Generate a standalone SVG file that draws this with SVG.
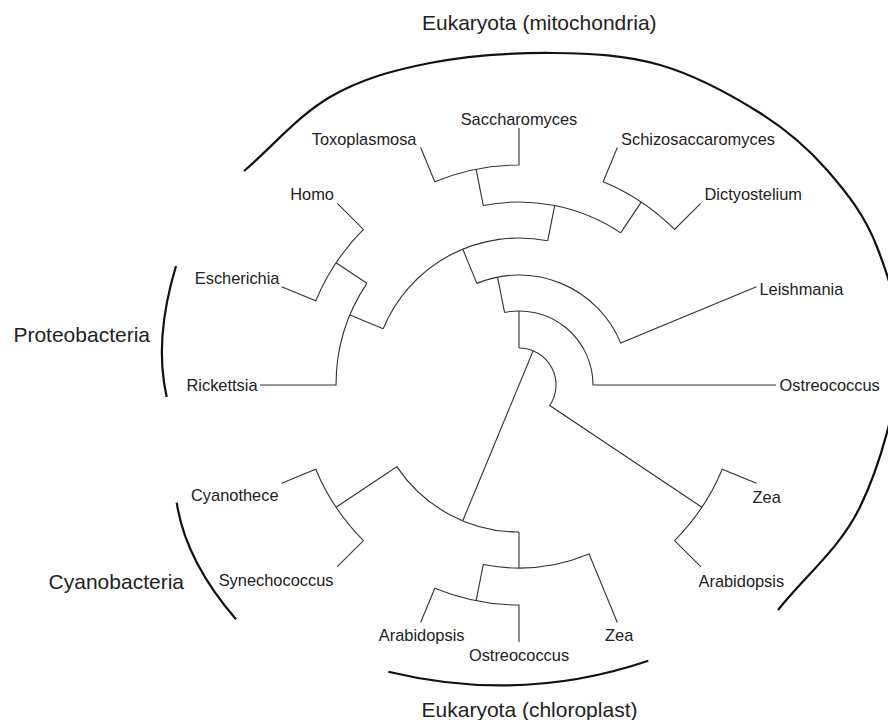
<svg xmlns="http://www.w3.org/2000/svg" width="888" height="720" viewBox="0 0 888 720">
<style>
  .t { font-family: "Liberation Sans", Arial, sans-serif; font-size: 16.4px; fill: #222; }
  .big { font-family: "Liberation Sans", Arial, sans-serif; font-size: 21px; fill: #222; }
  .br { fill: none; stroke: #111; stroke-width: 2.2; stroke-linecap: butt; }
  .e { fill: none; stroke: #333; stroke-width: 1.1; stroke-linejoin: miter; }
</style>
<rect width="888" height="720" fill="#fff"/>
<g id="connectors" class="e">
  <path d="M420.65 147.56 L434.81 181.75 A220 220 0 0 1 519 165 L519 128"/>
  <path d="M476.08 169.23 L483.30 205.52"/>
  <path d="M617.35 147.56 L603.19 181.75 A220 220 0 0 1 674.56 229.44 L700.73 203.27"/>
  <path d="M641.23 202.08 L620.67 232.84"/>
  <path d="M483.30 205.52 A183 183 0 0 1 620.67 232.84"/>
  <path d="M554.70 205.52 L547.68 240.82"/>
  <path d="M281.56 286.65 L315.75 300.81 A220 220 0 0 1 363.44 229.44 L337.27 203.27"/>
  <path d="M336.08 262.77 L366.84 283.33"/>
  <path d="M260 385 L336 385 A183 183 0 0 1 366.84 283.33"/>
  <path d="M349.93 314.97 L383.19 328.75"/>
  <path d="M383.19 328.75 A147 147 0 0 1 547.68 240.82"/>
  <path d="M462.75 249.19 L476.91 283.37"/>
  <path d="M476.91 283.37 A110 110 0 0 1 620.63 342.91 L756.44 286.65"/>
  <path d="M497.54 277.11 L504.56 312.42"/>
  <path d="M504.56 312.42 A74 74 0 0 1 593 385 L776 385"/>
  <path d="M519 311 L519 348"/>
  <path d="M519 348 A37 37 0 0 1 549.76 405.56 L701.92 507.23"/>
  <path d="M756.44 483.35 L722.25 469.19 A220 220 0 0 1 674.56 540.56 L700.73 566.73"/>
  <path d="M533.16 350.82 L462.75 520.81"/>
  <path d="M519 532 A147 147 0 0 1 396.77 466.67 L336.08 507.23"/>
  <path d="M281.56 483.35 L315.75 469.19 A220 220 0 0 0 363.44 540.56 L337.27 566.73"/>
  <path d="M519 532 L519 568"/>
  <path d="M617.35 622.44 L589.03 554.07 A183 183 0 0 1 483.30 564.48 L476.08 600.77"/>
  <path d="M519 642 L519 605 A220 220 0 0 1 434.81 588.25 L420.65 622.44"/>
</g>
<g id="leaf-saccharomyces"><text class="t" x="519" y="125" text-anchor="middle">Saccharomyces</text></g>
<g id="leaf-toxoplasmosa"><text class="t" x="416.5" y="145" text-anchor="end">Toxoplasmosa</text></g>
<g id="leaf-schizosaccaromyces"><text class="t" x="621" y="145">Schizosaccaromyces</text></g>
<g id="leaf-dictyostelium"><text class="t" x="704.5" y="200">Dictyostelium</text></g>
<g id="leaf-homo"><text class="t" x="334" y="200" text-anchor="end">Homo</text></g>
<g id="leaf-escherichia"><text class="t" x="279.5" y="284" text-anchor="end">Escherichia</text></g>
<g id="leaf-rickettsia"><text class="t" x="257.5" y="391" text-anchor="end">Rickettsia</text></g>
<g id="leaf-leishmania"><text class="t" x="759.5" y="295">Leishmania</text></g>
<g id="leaf-ostreococcus-m"><text class="t" x="779.5" y="391">Ostreococcus</text></g>
<g id="leaf-zea-m"><text class="t" x="752.5" y="503">Zea</text></g>
<g id="leaf-arabidopsis-m"><text class="t" x="698.5" y="587">Arabidopsis</text></g>
<g id="leaf-cyanothece"><text class="t" x="278.5" y="501" text-anchor="end">Cyanothece</text></g>
<g id="leaf-synechococcus"><text class="t" x="333.5" y="586" text-anchor="end">Synechococcus</text></g>
<g id="leaf-arabidopsis-c"><text class="t" x="464.5" y="641" text-anchor="end">Arabidopsis</text></g>
<g id="leaf-ostreococcus-c"><text class="t" x="519" y="661" text-anchor="middle">Ostreococcus</text></g>
<g id="leaf-zea-c"><text class="t" x="605" y="641">Zea</text></g>
<g id="clade-mitochondria">
  <path class="br" d="M244 171 C272.7 146.3 299 115 330 97 C361 79 392.8 70.3 430 63 C467.2 55.7 514.7 52.7 553 53 C591.3 53.3 625.5 55 660 65 C694.5 75 732.2 95.5 760 113 C787.8 130.5 807.5 147.7 827 170 C846.5 192.3 864.8 215.3 877 247 C889.2 278.7 902.8 316.7 900 360 C897.2 403.3 880.3 465.3 860 507 C839.7 548.7 805.3 575.7 778 610"/>
  <text class="big" x="422" y="30">Eukaryota (mitochondria)</text>
</g>
<g id="clade-proteobacteria">
  <path class="br" d="M176 266 Q153.6 340 166.7 397"/>
  <text class="big" x="150" y="342" text-anchor="end">Proteobacteria</text>
</g>
<g id="clade-cyanobacteria">
  <path class="br" d="M176.7 502.7 Q185.6 561 236 619.3"/>
  <text class="big" x="184" y="589" text-anchor="end">Cyanobacteria</text>
</g>
<g id="clade-chloroplast">
  <path class="br" d="M388.3 671.7 Q521.7 703.8 648.3 660.7"/>
  <text class="big" x="529.5" y="717" text-anchor="middle">Eukaryota (chloroplast)</text>
</g>
</svg>
